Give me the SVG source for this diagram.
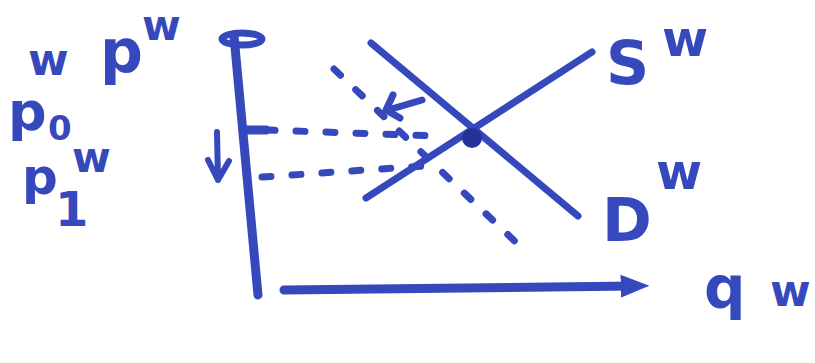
<svg xmlns="http://www.w3.org/2000/svg" width="815" height="363" viewBox="0 0 815 363">
<defs>
<style>
.ink{fill:none;stroke:#3549bd;stroke-linecap:round;stroke-linejoin:round}
.axis{stroke-width:9}
.curve{stroke-width:7}
.dash{stroke-width:7;stroke-dasharray:9 21}
.lbl{fill:#3549bd;font-family:"DejaVu Sans",sans-serif;font-weight:bold}
</style>
<marker id="ah" viewBox="0 0 10 10" refX="5" refY="5" markerWidth="3.2" markerHeight="3.2" orient="auto">
<path d="M0,1 L10,5 L0,9 Z" fill="#3549bd"/>
</marker>
</defs>
<rect width="815" height="363" fill="#fff"/>
<g id="axes">
<path class="ink axis" d="M234,36 L258,295"/>
<ellipse class="ink" cx="242" cy="39" rx="20" ry="6" stroke-width="7"/>
<path class="ink axis" d="M246,130 L266,130"/>
<path class="ink axis" d="M284,290 L635,286" marker-end="url(#ah)"/>
</g>
<g id="curve-S"><path class="ink curve" d="M366,198 L592,52"/></g>
<g id="curve-D"><path class="ink curve" d="M371,43 L578,216"/></g>
<g id="equilibrium"><circle cx="472" cy="138" r="10" fill="#24339a"/></g>
<g id="connectors">
<path class="ink dash" d="M266,130 L436,136"/>
<path class="ink dash" d="M262,177 L425,166"/>
<path class="ink dash" d="M334,69 L524,250"/>
<path class="ink" stroke-width="7" d="M422,100 L388,110 M393,95 L386,110 L400,118"/>
<path class="ink" stroke-width="6" d="M217,132 L218,180 M208,160 L218,180 L229,161"/>
</g>
<g id="label-pw">
<text class="lbl" x="100" y="72" font-size="60">p</text>
<text class="lbl" x="142" y="40" font-size="42">w</text>
</g>
<g id="label-p0w">
<text class="lbl" x="8" y="130" font-size="54">p</text>
<text class="lbl" x="48" y="140" font-size="34">0</text>
<text class="lbl" x="28" y="75" font-size="44">w</text>
</g>
<g id="label-p1w">
<text class="lbl" x="22" y="194" font-size="50">p</text>
<text class="lbl" x="55" y="226" font-size="48">1</text>
<text class="lbl" x="72" y="172" font-size="42">w</text>
</g>
<g id="label-Sw">
<text class="lbl" x="606" y="84" font-size="60">S</text>
<text class="lbl" x="662" y="56" font-size="50">w</text>
</g>
<g id="label-Dw">
<text class="lbl" x="602" y="241" font-size="60">D</text>
<text class="lbl" x="656" y="189" font-size="50">w</text>
</g>
<g id="label-qw">
<text class="lbl" x="704" y="308" font-size="58">q</text>
<text class="lbl" x="770" y="306" font-size="44">w</text>
</g>
</svg>
